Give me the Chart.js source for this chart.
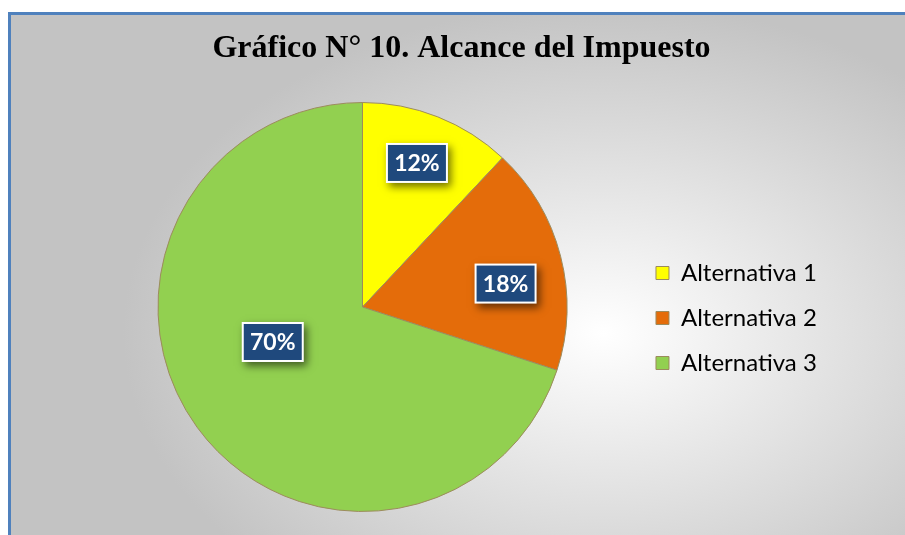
<!DOCTYPE html>
<html lang="es">
<head>
  <meta charset="UTF-8">
  <script src="https://cdn.jsdelivr.net/npm/chart.js@4.4.1/dist/chart.umd.min.js"></script>
  <title>Alcance del Impuesto</title>
  <style>
    html, body { margin: 0; padding: 0; width: 905px; height: 535px; overflow: hidden; background: #fff; }
    #frame {
      position: absolute; left: 8px; top: 12px; width: 1000px; height: 600px;
      border-left: 3px solid #4f81bd; border-top: 3px solid #4f81bd;
      background: radial-gradient(ellipse 480px 330px at 592px 318px, #ffffff 0%, #c3c3c3 100%);
    }
    #myChart { position: absolute; left: 0; top: 0; }
  </style>
</head>
<body>
  <div id="frame"></div>
  <canvas id="myChart" width="905" height="535"></canvas>
  <script>
    const categories = ['Alternativa 1', 'Alternativa 2', 'Alternativa 3']
    const values = [12, 18, 70]
    const percentLabels = ['12%', '18%', '70%']
    const sliceColors = ['#ffff00', '#e46c0a', '#92d050']

    // where each value box sits inside its slice (fraction of radius, angle nudge in degrees)
    const boxRadius = [0.753, 0.709, 0.471]
    const boxTurn = [-0.9, 5.1, 14.7]

    const valueBoxes = {
      id: 'valueBoxes',
      afterDatasetsDraw(chart) {
        const ctx = chart.ctx
        const meta = chart.getDatasetMeta(0)
        meta.data.forEach((arc, i) => {
          const p = arc.getProps(['x', 'y', 'startAngle', 'endAngle', 'outerRadius'], true)
          const mid = (p.startAngle + p.endAngle) / 2 + boxTurn[i] * Math.PI / 180
          const r = p.outerRadius * boxRadius[i]
          const cx = p.x + Math.cos(mid) * r
          const cy = p.y + Math.sin(mid) * r
          const w = 62, h = 40
          ctx.save()
          ctx.shadowColor = 'rgba(0, 0, 0, 0.55)'
          ctx.shadowBlur = 8
          ctx.shadowOffsetX = 3
          ctx.shadowOffsetY = 4
          ctx.fillStyle = '#ffffff'
          ctx.fillRect(cx - w / 2, cy - h / 2, w, h)
          ctx.restore()
          ctx.save()
          ctx.fillStyle = '#1f497d'
          ctx.fillRect(cx - w / 2 + 2, cy - h / 2 + 2, w - 4, h - 4)
          ctx.fillStyle = '#ffffff'
          ctx.font = 'bold 23px Lato'
          ctx.textAlign = 'center'
          ctx.textBaseline = 'middle'
          ctx.fillText(percentLabels[i], cx, cy + 1)
          ctx.restore()
        })
      }
    }

    const ctx = document.getElementById('myChart')
    const myChart = new Chart(ctx, {
      type: 'pie',
      data: {
        labels: categories,
        datasets: [{
          data: values,
          backgroundColor: sliceColors,
          borderColor: '#9c8b5d',
          borderWidth: 1
        }]
      },
      plugins: [valueBoxes],
      options: {
        responsive: false,
        animation: false,
        layout: {
          padding: { top: 0, bottom: 23, left: 90, right: 72 }
        },
        plugins: {
          tooltip: { enabled: false },
          title: {
            display: true,
            text: 'Gráfico N° 10. Alcance del Impuesto',
            color: '#000000',
            font: { family: 'Liberation Serif', size: 32, weight: 'bold' },
            padding: { top: 30, bottom: 33.6 }
          },
          legend: {
            position: 'right',
            align: 'center',
            // empty legend title only pushes the entries down
            title: {
              display: true,
              text: ' ',
              font: { size: 12 },
              padding: 54.8
            },
            labels: {
              color: '#000000',
              boxWidth: 13,
              boxHeight: 13,
              padding: 21,
              font: { family: 'Lato', size: 24 },
              generateLabels(chart) {
                const items = Chart.overrides.pie.plugins.legend.labels.generateLabels(chart)
                // a little trailing room so the legend block is as wide as in the original
                items.forEach(item => { item.text = item.text + '\u00a0' })
                return items
              }
            }
          }
        }
      }
    })
  </script>
</body>
</html>
